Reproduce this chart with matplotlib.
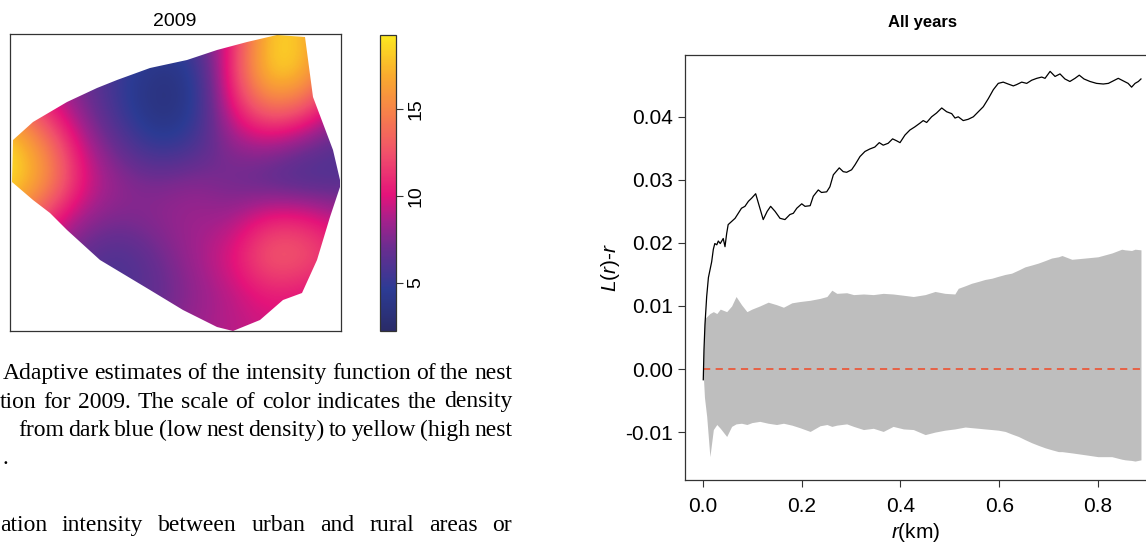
import matplotlib
matplotlib.use("Agg")
import matplotlib.pyplot as plt
import numpy as np
from matplotlib.colors import LinearSegmentedColormap
from matplotlib.patches import Polygon
from matplotlib.transforms import IdentityTransform

plt.rcParams["font.family"] = ["Liberation Sans", "DejaVu Sans"]
plt.rcParams["mathtext.fontset"] = "custom"
plt.rcParams["mathtext.it"] = "Liberation Sans:italic"
plt.rcParams["mathtext.rm"] = "Liberation Sans"

W, H = 1146, 545

# ---------------- left panel: adaptive intensity estimate, 2009 ----------------
# intensity on a coarse regular grid (top row first)
intensity = [
    [10.0, 8.0, 7.0, 6.0, 5.0, 6.0, 10.0, 18.5, 18.0, 12.0],
    [12.0, 9.0, 7.0, 5.0, 3.5, 4.0, 11.0, 19.2, 18.0, 12.0],
    [15.0, 10.5, 7.5, 5.0, 3.0, 4.0, 10.0, 14.5, 13.0, 8.0],
    [19.3, 15.0, 9.0, 6.5, 4.5, 5.5, 8.0, 8.5, 7.0, 6.0],
    [19.3, 16.0, 10.0, 8.0, 7.5, 8.0, 7.0, 6.0, 5.5, 6.0],
    [16.0, 11.0, 8.0, 7.5, 8.0, 8.5, 8.5, 11.0, 11.0, 9.0],
    [10.0, 8.0, 6.5, 5.5, 7.0, 8.5, 10.0, 13.5, 13.0, 11.0],
    [7.0, 6.0, 6.0, 6.0, 6.5, 8.0, 9.0, 10.5, 10.0, 9.0],
    [6.0, 6.0, 6.0, 6.5, 7.5, 8.5, 9.0, 9.5, 9.5, 9.0],
]
# study window boundary (map units)
window_x = [3, 23, 40, 57, 87, 107, 140, 177, 207, 237, 267, 295, 303, 323, 330,
            330, 320, 307, 292, 273, 250, 223, 207, 173, 140, 90, 57, 40, 23, 2]
window_y = [191, 209, 219, 229, 243, 251, 263, 271, 281, 289, 296, 294, 234, 181, 151,
            144, 114, 71, 38, 31, 11, 0, 4, 21, 41, 71, 101, 118, 131, 149]
map_w, map_h = 331, 297
cbar_ticks = [5, 10, 15]
vmin, vmax = 2.2, 19.3

# ---------------- right panel: L(r)-r with envelope ----------------
r_obs = [0.0006, 0.002, 0.004, 0.0075, 0.011, 0.0176, 0.021, 0.024, 0.028, 0.031,
         0.035, 0.038, 0.041, 0.0446, 0.048, 0.051, 0.058, 0.065, 0.0715, 0.078,
         0.085, 0.092, 0.0986, 0.1067, 0.1134, 0.122, 0.130, 0.137, 0.146, 0.156,
         0.166, 0.176, 0.183, 0.190, 0.200, 0.2066, 0.217, 0.2234, 0.2335, 0.240,
         0.2505, 0.257, 0.264, 0.276, 0.284, 0.291, 0.301, 0.308, 0.318, 0.328,
         0.338, 0.348, 0.357, 0.365, 0.375, 0.384, 0.392, 0.399, 0.409, 0.419,
         0.429, 0.4395, 0.446, 0.453, 0.463, 0.473, 0.4835, 0.4935, 0.5037, 0.5104,
         0.517, 0.527, 0.537, 0.5475, 0.5576, 0.5677, 0.578, 0.588, 0.598, 0.608,
         0.618, 0.6285, 0.635, 0.6455, 0.6556, 0.6657, 0.676, 0.686, 0.6927, 0.703,
         0.713, 0.723, 0.733, 0.743, 0.7534, 0.762, 0.7716, 0.7838, 0.797, 0.8107,
         0.821, 0.831, 0.841, 0.851, 0.861, 0.868, 0.875, 0.8817, 0.887]
l_obs = [-0.0017, 0.0030, 0.0070, 0.0115, 0.0145, 0.0170, 0.0190, 0.0199, 0.0197, 0.0203,
         0.0199, 0.0203, 0.0207, 0.0194, 0.0215, 0.0229, 0.0234, 0.0239, 0.0247, 0.0255,
         0.0258, 0.0266, 0.0271, 0.0278, 0.0260, 0.0237, 0.0250, 0.0258, 0.0250, 0.0239,
         0.0237, 0.0245, 0.0247, 0.0255, 0.0262, 0.0258, 0.0259, 0.0274, 0.0284, 0.0280,
         0.0281, 0.0289, 0.0308, 0.0319, 0.0313, 0.0312, 0.0316, 0.0324, 0.0337, 0.0345,
         0.0349, 0.0352, 0.0359, 0.0355, 0.0358, 0.0365, 0.0362, 0.0359, 0.0371, 0.0379,
         0.0384, 0.0390, 0.0394, 0.0391, 0.0400, 0.0406, 0.0414, 0.0408, 0.0405, 0.0398,
         0.0400, 0.0394, 0.0396, 0.0400, 0.0408, 0.0416, 0.0429, 0.0443, 0.0453, 0.0455,
         0.0452, 0.0449, 0.0451, 0.0455, 0.0453, 0.0458, 0.0461, 0.0463, 0.0461, 0.0472,
         0.0464, 0.0468, 0.0460, 0.0456, 0.0461, 0.0466, 0.0460, 0.0456, 0.0453, 0.0452,
         0.0453, 0.0457, 0.0461, 0.0457, 0.0453, 0.0447, 0.0453, 0.0456, 0.0460]
env_r = [0.0, 0.003, 0.0075, 0.014, 0.021, 0.028, 0.035, 0.048, 0.058, 0.067,
         0.078, 0.089, 0.099, 0.115, 0.132, 0.149, 0.163, 0.180, 0.196, 0.217,
         0.237, 0.251, 0.261, 0.271, 0.291, 0.305, 0.325, 0.345, 0.365, 0.385,
         0.406, 0.426, 0.45, 0.47, 0.49, 0.51, 0.517, 0.531, 0.544, 0.558,
         0.571, 0.585, 0.598, 0.612, 0.625, 0.639, 0.652, 0.666, 0.679, 0.693,
         0.706, 0.72, 0.727, 0.747, 0.774, 0.80, 0.828, 0.848, 0.855, 0.868,
         0.875, 0.887]
env_hi = [0.0, 0.0080, 0.0083, 0.0088, 0.0091, 0.0088, 0.0095, 0.0091, 0.0100, 0.0115,
          0.0102, 0.0091, 0.0095, 0.0100, 0.0106, 0.0102, 0.0098, 0.0105, 0.0107, 0.0109,
          0.0112, 0.0115, 0.0125, 0.0120, 0.0121, 0.0118, 0.0119, 0.0118, 0.0120, 0.0119,
          0.0117, 0.0115, 0.0118, 0.0123, 0.0120, 0.0119, 0.0128, 0.0132, 0.0136, 0.0139,
          0.0142, 0.0144, 0.0147, 0.0150, 0.0152, 0.0157, 0.0162, 0.0165, 0.0168, 0.0172,
          0.0176, 0.0178, 0.0180, 0.0174, 0.0176, 0.0178, 0.0184, 0.0190, 0.0189, 0.0188,
          0.0190, 0.0189]
env_lo = [0.0, -0.0045, -0.0075, -0.0139, -0.0096, -0.0088, -0.0094, -0.0107, -0.0091, -0.0087,
          -0.0086, -0.0088, -0.0085, -0.0083, -0.0086, -0.0088, -0.0086, -0.0089, -0.0093, -0.0099,
          -0.0090, -0.0088, -0.0091, -0.0089, -0.0087, -0.0091, -0.0096, -0.0094, -0.0099, -0.0091,
          -0.0095, -0.0096, -0.0104, -0.0100, -0.0097, -0.0095, -0.0094, -0.0092, -0.0093, -0.0094,
          -0.0095, -0.0096, -0.0097, -0.0099, -0.0103, -0.0107, -0.0112, -0.0117, -0.0121, -0.0125,
          -0.0128, -0.0131, -0.0131, -0.0133, -0.0136, -0.0139, -0.0139, -0.0143, -0.0144, -0.0145,
          -0.0146, -0.0144]
x_ticks = [0.0, 0.2, 0.4, 0.6, 0.8]
x_labels = ["0.0", "0.2", "0.4", "0.6", "0.8"]
y_ticks = [-0.01, 0.0, 0.01, 0.02, 0.03, 0.04]
y_labels = ["-0.01", "0.00", "0.01", "0.02", "0.03", "0.04"]

caption_lines = [
    "Adaptive estimates of the intensity function of the nest",
    "tion for 2009. The scale of color indicates the density",
    "from dark blue (low nest density) to yellow (high nest",
    ".",
    "ation intensity between urban and rural areas or",
]

fig = plt.figure(figsize=(W / 100, H / 100), dpi=100)

def px_axes(left, top, right, bottom):
    return fig.add_axes([left / W, (H - bottom) / H, (right - left) / W, (bottom - top) / H])

cmap = LinearSegmentedColormap.from_list("nest", [
    (0.00, "#2a2b68"), (0.14, "#2c3b94"), (0.28, "#6a2d90"), (0.37, "#a2218c"),
    (0.46, "#e4137a"), (0.60, "#f0506b"), (0.74, "#f6814a"), (0.86, "#f9a92f"),
    (1.00, "#fce81f")])

ax1 = px_axes(10, 34, 341, 331)
dx = map_w / (len(intensity[0]) - 1)
dy = map_h / (len(intensity) - 1)
im = ax1.imshow(np.array(intensity), cmap=cmap, vmin=vmin, vmax=vmax,
                interpolation="bicubic", origin="upper", aspect="auto",
                extent=(-dx / 2, map_w + dx / 2, -dy / 2, map_h + dy / 2))
win = Polygon(np.column_stack([window_x, window_y]), closed=True,
              facecolor="none", edgecolor="none")
ax1.add_patch(win)
im.set_clip_path(win)
ax1.set_xlim(0, map_w)
ax1.set_ylim(0, map_h)
ax1.set_xticks([])
ax1.set_yticks([])
for s in ax1.spines.values():
    s.set_color("#333333")
    s.set_linewidth(0.9)
fig.text(175 / W, 1 - 22 / H, "2009", ha="center", va="center", fontsize=14)

cax = px_axes(380, 35, 396, 331)
cb = fig.colorbar(im, cax=cax, ticks=cbar_ticks)
cb.ax.set_yticklabels([str(t) for t in cbar_ticks], rotation=90, va="center")
cb.ax.tick_params(length=5, width=0.8, pad=3, labelsize=14, color="#333333")
cb.outline.set_edgecolor("#333333")
cb.outline.set_linewidth(0.9)

# right panel
ax2 = px_axes(685.3, 55, 1162.7, 480)
ax2.fill_between(env_r, env_lo, env_hi, color="#bebebe", lw=0)
ax2.hlines(0, env_r[0], env_r[-1], colors="#ea5a3c", linestyles=(0, (4, 3)), lw=1.3)
ax2.plot(r_obs, l_obs, color="black", lw=0.9)
ax2.set_xlim(-0.0358, 0.931)
ax2.set_ylim(-0.0176, 0.0498)
ax2.set_xticks(x_ticks)
ax2.set_xticklabels(x_labels)
ax2.set_yticks(y_ticks)
ax2.set_yticklabels(y_labels)
ax2.tick_params(direction="out", length=5, width=0.8, color="#333333", labelsize=15)
ax2.tick_params(axis="x", pad=7)
ax2.tick_params(axis="y", pad=4)
for s in ax2.spines.values():
    s.set_color("#333333")
    s.set_linewidth(0.9)
ax2.set_ylabel(r"$L$($r$)-$r$", fontsize=15)
ax2.yaxis.label.set_verticalalignment("center")
ax2.yaxis.set_label_coords((610 - 685.3) / 477.4, 0.5)
ax2.set_xlabel(r"$r$(km)", fontsize=15)
ax2.xaxis.label.set_verticalalignment("center")
ax2.xaxis.set_label_coords((916 - 685.3) / 477.4, (480 - 533) / 425)
fig.text(922 / W, 1 - 22 / H, "All years", ha="center", va="center",
         fontsize=12, fontweight="bold")

# caption text, justified like the page
renderer = fig.canvas.get_renderer()
serif = ["Liberation Serif", "DejaVu Serif"]
line_left = [3, 0, 18, 3, 0]
line_base = [379, 407.5, 436, 464.5, 531]
right_edge = 512
for line, x0, yb in zip(caption_lines, line_left, line_base):
    words = line.split()
    texts = [fig.text(0, H - yb, w, transform=IdentityTransform(), family=serif,
                      fontsize=17, ha="left", va="baseline") for w in words]
    widths = [t.get_window_extent(renderer).width for t in texts]
    gap = (right_edge - x0 - sum(widths)) / (len(words) - 1) if len(words) > 1 else 0
    x = x0
    for t, w in zip(texts, widths):
        t.set_x(x)
        x += w + gap

fig.savefig("out.png", dpi=100)
